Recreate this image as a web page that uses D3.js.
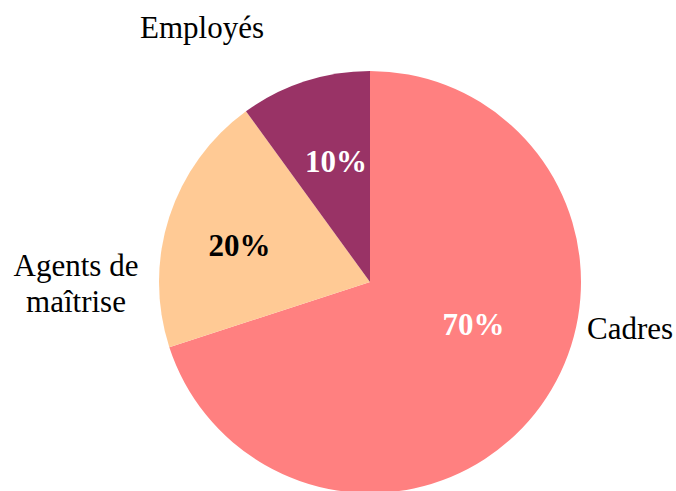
<!DOCTYPE html>
<html>
<head>
<meta charset="utf-8">
<script src="https://cdn.jsdelivr.net/npm/d3@7"></script>
<style>
  body { margin: 0; background: #fff; }
  text { font-family: "Liberation Serif", "Times New Roman", serif; }
</style>
</head>
<body>
<svg id="chart" width="676" height="491"></svg>
<script>
const categories = ["Cadres", "Agents de maîtrise", "Employés"];
const values = [70, 20, 10];
const colors = ["#ff8080", "#ffca95", "#993366"];
const pctColors = ["#ffffff", "#000000", "#ffffff"];

const svg = d3.select("#chart");
const cx = 370, cy = 282, R = 211;

const pie = d3.pie().sort(null).value(d => d)(values);
const arc = d3.arc().innerRadius(0).outerRadius(R);
const labelArc = d3.arc().innerRadius(R * 0.6).outerRadius(R * 0.6);

const g = svg.append("g").attr("transform", `translate(${cx},${cy})`);

g.selectAll("path.slice")
  .data(pie)
  .enter()
  .append("path")
    .attr("class", "slice")
    .attr("fill", (d, i) => colors[i])
    .attr("d", arc);

// percent labels: excel-ish nudges from the centroid
const nudge = [[1, -32], [-10, 2], [5, 0]];
g.selectAll("text.pct")
  .data(pie)
  .enter()
  .append("text")
    .attr("class", "pct")
    .attr("x", (d, i) => labelArc.centroid(d)[0] + nudge[i][0])
    .attr("y", (d, i) => labelArc.centroid(d)[1] + nudge[i][1])
    .attr("dy", "0.35em")
    .attr("text-anchor", "middle")
    .attr("font-size", 31)
    .attr("font-weight", "bold")
    .attr("fill", (d, i) => pctColors[i])
    .text(d => d.data + "%");

// category labels outside the pie
const outer = [
  { x: R + 6, y: 46, anchor: "start", lines: ["Cadres"] },
  { x: -294, y: 1, anchor: "middle", lines: ["Agents de", "maîtrise"] },
  { x: -168, y: -255, anchor: "middle", lines: ["Employés"] }
];
outer.forEach((o, i) => {
  const t = g.append("text")
    .attr("text-anchor", o.anchor)
    .attr("font-size", 31)
    .attr("fill", "#000");
  const n = o.lines.length;
  o.lines.forEach((l, k) => {
    t.append("tspan")
      .attr("x", o.x)
      .attr("y", o.y + (k - (n - 1) / 2) * 36)
      .attr("dy", "0.35em")
      .text(l);
  });
});
</script>
</body>
</html>
